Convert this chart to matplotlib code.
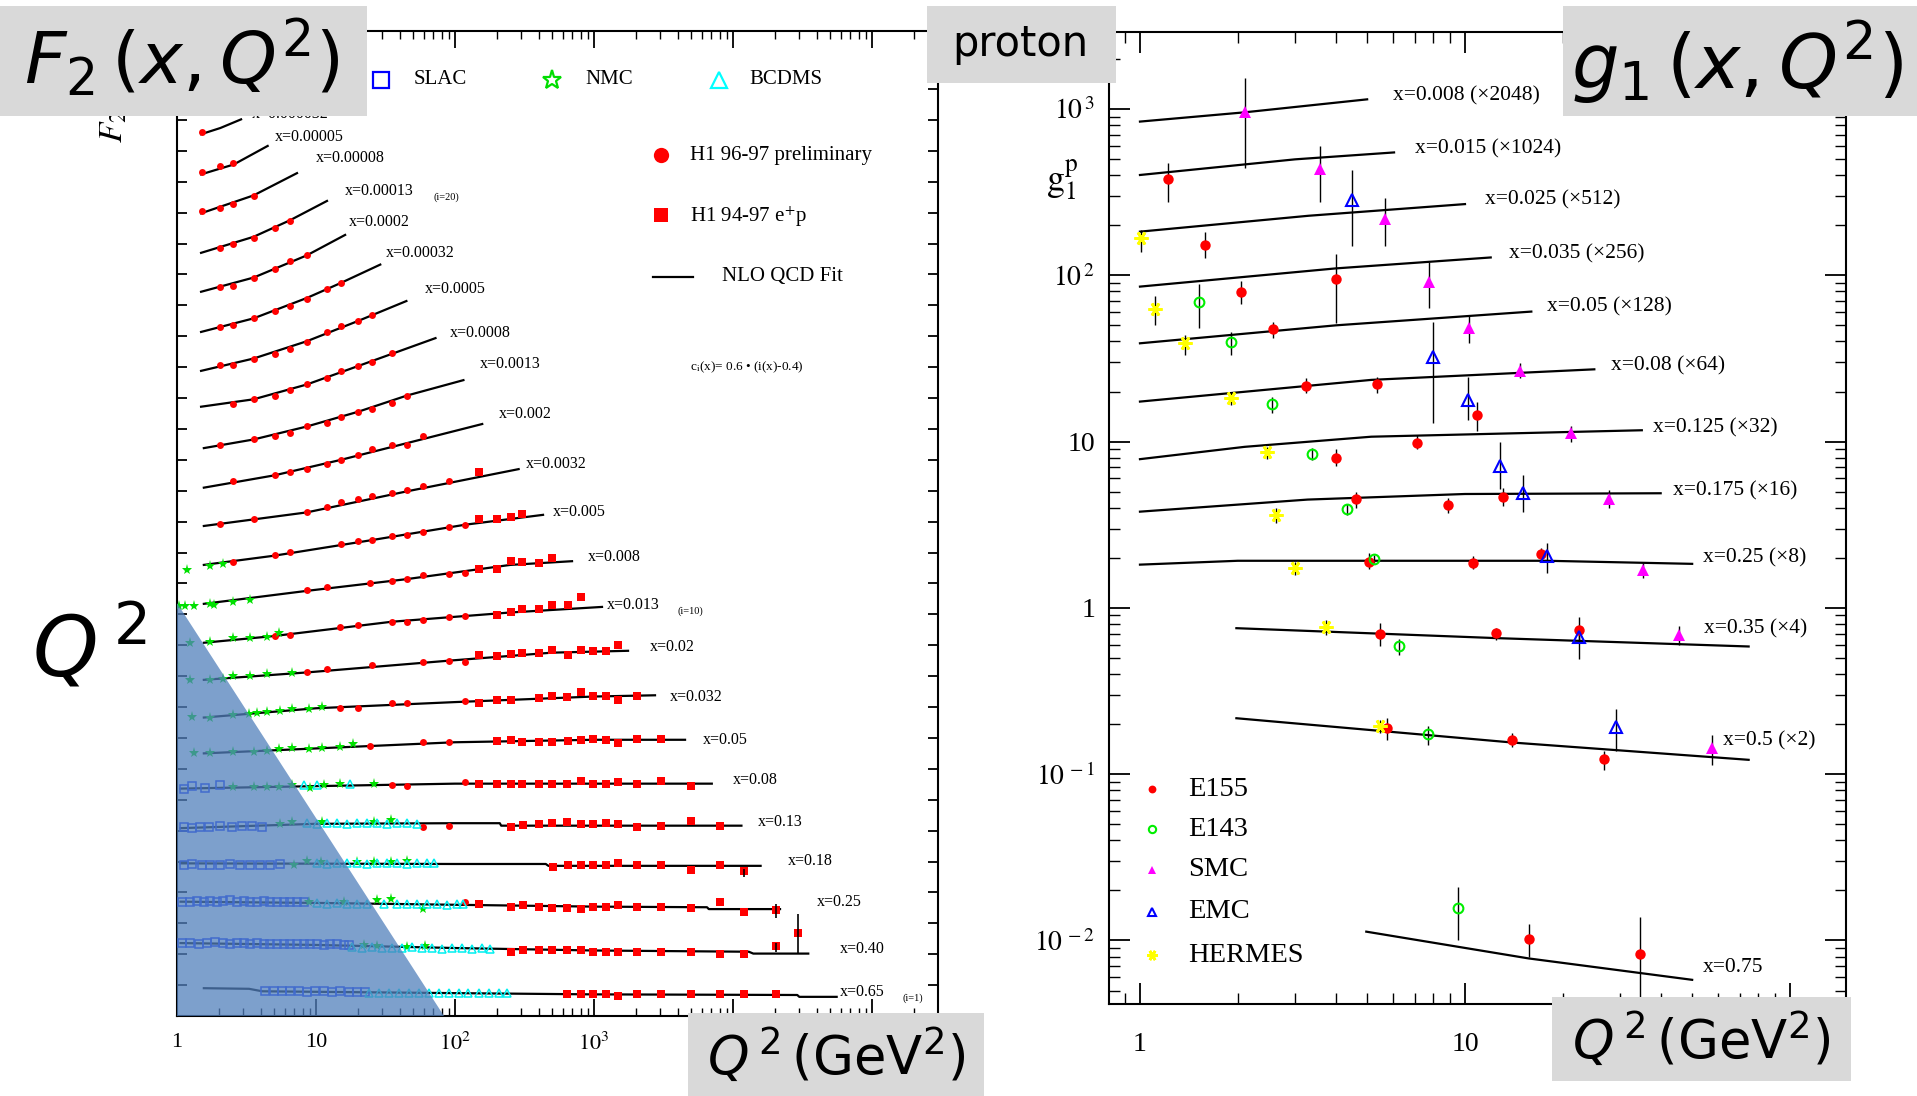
import numpy as np
import matplotlib
matplotlib.use("Agg")
import matplotlib.pyplot as plt
from matplotlib.patches import Rectangle, Polygon
from matplotlib.lines import Line2D
from matplotlib.ticker import FixedLocator, NullFormatter, FixedFormatter, LogLocator

plt.rcParams['font.family'] = ['Liberation Serif', 'DejaVu Serif']
plt.rcParams['mathtext.fontset'] = 'stix'

# ---------------- F2 data (values are F2 + c_i(x), c_i = 0.6*(i-0.4)) ----------------
f2_bins = ["x=0.000032", "x=0.00005", "x=0.00008", "x=0.00013", "x=0.0002", "x=0.00032",
           "x=0.0005", "x=0.0008", "x=0.0013", "x=0.002", "x=0.0032", "x=0.005", "x=0.008",
           "x=0.013", "x=0.02", "x=0.032", "x=0.05", "x=0.08", "x=0.13", "x=0.18",
           "x=0.25", "x=0.40", "x=0.65"]

fit_q = [[1.49, 2.05, 2.89], [1.49, 2.56, 4.49], [1.49, 3.56, 7.3], [1.49, 3.56, 6.54, 12.0],
         [1.49, 3.56, 8.6, 16.2], [1.49, 3.56, 8.6, 15.0, 29.0], [1.49, 3.56, 8.6, 20.2, 44.7],
         [1.49, 3.56, 8.6, 20.2, 72.4], [1.56, 3.56, 8.6, 20.2, 45.0, 115],
         [1.56, 5.04, 15.1, 45.0, 157], [1.56, 8.6, 45.0, 287], [1.56, 5.04, 25.0, 118, 430],
         [1.56, 8.6, 45.0, 250, 695], [1.56, 5.04, 35.0, 250, 1142], [1.56, 8.6, 90.0, 500, 1758],
         [1.56, 10, 100, 1000, 2748], [1.56, 10, 100, 1000, 4520], [1.06, 10, 100, 1000, 7040],
         [1.06, 10, 100, 210, 215, 11500], [1.06, 100, 450, 470, 15800],
         [1.06, 10, 100, 1000, 6500, 6700, 21800], [1.06, 10, 100, 1000, 13000, 14000, 34800],
         [1.56, 3.3, 4.1, 100, 1000, 29000, 30000, 55700]]
fit_v = [[14.27, 14.37, 14.51], [13.62, 13.78, 14.08], [12.99, 13.28, 13.64],
         [12.35, 12.61, 12.88, 13.19], [11.72, 11.95, 12.31, 12.64],
         [11.07, 11.29, 11.62, 11.86, 12.16], [10.44, 10.64, 10.92, 11.25, 11.57],
         [9.86, 9.98, 10.22, 10.52, 10.97], [9.19, 9.33, 9.54, 9.78, 10.04, 10.29],
         [8.55, 8.75, 9.00, 9.27, 9.58], [7.93, 8.15, 8.49, 8.85], [7.30, 7.45, 7.70, 7.95, 8.11],
         [6.67, 6.88, 7.07, 7.30, 7.36], [6.04, 6.15, 6.38, 6.53, 6.62], [5.44, 5.56, 5.75, 5.88, 5.91],
         [4.83, 4.98, 5.08, 5.17, 5.19], [4.25, 4.33, 4.43, 4.47, 4.47], [3.68, 3.72, 3.76, 3.76, 3.76],
         [3.04, 3.11, 3.12, 3.12, 3.08, 3.08], [2.47, 2.46, 2.46, 2.43, 2.43],
         [1.85, 1.83, 1.80, 1.77, 1.76, 1.73, 1.73], [1.18, 1.15, 1.10, 1.06, 1.04, 1.01, 1.01],
         [0.45, 0.44, 0.40, 0.37, 0.35, 0.34, 0.31, 0.31]]

h1_q = [[1.51], [1.51, 2.03, 2.53], [1.51, 2.03, 2.53, 3.56], [2.03, 2.53, 3.56, 5.04, 6.54],
        [2.03, 2.53, 3.56, 5.04, 6.54, 8.6], [2.03, 2.53, 3.56, 5.04, 6.54, 8.6, 12.0, 15.1],
        [2.03, 2.53, 3.56, 5.04, 6.54, 8.6, 12.0, 15.1, 20.2, 25.3],
        [2.53, 3.56, 5.04, 6.54, 8.6, 12.0, 15.1, 20.2, 25.3, 35.2],
        [2.03, 3.56, 5.04, 6.54, 8.6, 12.0, 15.1, 20.2, 25.3, 35.2, 45.1],
        [2.53, 5.04, 6.54, 8.6, 12.0, 15.1, 20.2, 25.3, 35.2, 45.1, 59.3],
        [2.03, 3.56, 8.6, 12.0, 15.1, 20.2, 25.3, 35.2, 45.1, 59.3, 90.0, 148],
        [2.53, 5.04, 6.54, 15.1, 20.2, 25.3, 35.2, 45.1, 59.3, 90.0, 118, 148, 201, 251, 303],
        [8.6, 12.0, 24.6, 35.2, 45.1, 59.3, 90.0, 118, 148, 201, 251, 303, 400, 497],
        [5.04, 6.54, 15.0, 20.2, 35.2, 45.1, 59.3, 90.0, 118, 201, 251, 303, 400, 497, 653, 802],
        [8.6, 12.0, 25.3, 59.3, 90.0, 118, 148, 201, 251, 303, 400, 497, 653, 802, 988, 1220, 1496],
        [15.0, 20.2, 35.2, 45.1, 118, 148, 201, 251, 400, 497, 637, 802, 988, 1220, 1496, 2027],
        [24.6, 59.3, 90.0, 201, 251, 303, 400, 497, 653, 802, 989, 1220, 1496, 2030, 3020],
        [35.2, 45.1, 118, 148, 201, 251, 303, 400, 497, 637, 802, 989, 1220, 1496, 2030, 3020, 5020],
        [59.3, 90.0, 251, 311, 400, 497, 637, 802, 989, 1220, 1496, 2030, 3020, 5020, 8130],
        [510, 653, 802, 989, 1220, 1496, 2030, 3020, 5020, 8130, 12000],
        [118, 148, 251, 311, 400, 497, 637, 802, 989, 1220, 1496, 2030, 3020, 5020, 8130, 12000, 20500],
        [251, 311, 400, 497, 637, 802, 989, 1220, 1496, 2030, 3020, 5020, 8130, 12000, 20500, 29500],
        [637, 802, 989, 1220, 1496, 2030, 3020, 5020, 8130, 12000, 20500]]
h1_v = [[14.31], [13.66, 13.75, 13.81], [13.03, 13.07, 13.14, 13.27], [12.43, 12.49, 12.59, 12.76, 12.86],
        [11.79, 11.81, 11.95, 12.09, 12.22, 12.31],
        [11.15, 11.18, 11.29, 11.41, 11.49, 11.61, 11.77, 11.86],
        [10.54, 10.53, 10.64, 10.72, 10.80, 10.91, 11.07, 11.17, 11.25, 11.34],
        [9.91, 9.98, 10.03, 10.13, 10.22, 10.32, 10.44, 10.52, 10.59, 10.73],
        [9.24, 9.33, 9.39, 9.43, 9.54, 9.60, 9.70, 9.78, 9.83, 9.92, 10.04],
        [8.65, 8.75, 8.81, 8.86, 8.94, 9.00, 9.08, 9.17, 9.24, 9.24, 9.39],
        [7.96, 8.05, 8.16, 8.24, 8.31, 8.36, 8.41, 8.46, 8.51, 8.58, 8.65, 8.81],
        [7.34, 7.46, 7.51, 7.64, 7.68, 7.70, 7.76, 7.78, 7.84, 7.92, 7.95, 8.04, 8.05, 8.08, 8.12],
        [6.89, 6.94, 7.00, 7.04, 7.07, 7.14, 7.16, 7.17, 7.24, 7.24, 7.37, 7.34, 7.33, 7.41],
        [6.15, 6.17, 6.30, 6.33, 6.38, 6.38, 6.41, 6.46, 6.47, 6.49, 6.54, 6.58, 6.58, 6.65, 6.65, 6.78],
        [5.56, 5.61, 5.68, 5.73, 5.75, 5.73, 5.84, 5.83, 5.86, 5.87, 5.87, 5.92, 5.84, 5.93, 5.91, 5.91, 6.00],
        [4.98, 4.99, 5.06, 5.06, 5.09, 5.07, 5.11, 5.12, 5.14, 5.18, 5.17, 5.25, 5.18, 5.18, 5.11, 5.18],
        [4.37, 4.43, 4.43, 4.45, 4.47, 4.43, 4.43, 4.44, 4.45, 4.47, 4.49, 4.47, 4.41, 4.49, 4.48],
        [3.74, 3.73, 3.78, 3.75, 3.76, 3.76, 3.76, 3.76, 3.76, 3.76, 3.80, 3.76, 3.76, 3.79, 3.75, 3.80, 3.73],
        [3.06, 3.08, 3.06, 3.09, 3.10, 3.12, 3.14, 3.10, 3.10, 3.12, 3.10, 3.06, 3.08, 3.16, 3.08],
        [2.41, 2.44, 2.44, 2.45, 2.45, 2.47, 2.44, 2.45, 2.36, 2.45, 2.35],
        [1.84, 1.82, 1.77, 1.79, 1.77, 1.74, 1.75, 1.73, 1.77, 1.77, 1.80, 1.77, 1.77, 1.74, 1.84, 1.69, 1.72],
        [1.04, 1.07, 1.07, 1.06, 1.06, 1.07, 1.04, 1.04, 1.03, 1.03, 1.04, 1.04, 1.01, 1.01, 1.14, 1.34],
        [0.35, 0.35, 0.35, 0.35, 0.33, 0.35, 0.35, 0.35, 0.35, 0.35, 0.35]]
H1_SPLIT_Q2 = 140  # 94-97 e+p sample above, 96-97 preliminary below

# larger H1 error bars at the highest Q^2
h1_err_q = [12000, 20500, 20500, 29500]
h1_err_lo = [2.25, 1.58, 1.04, 1.01]
h1_err_hi = [2.38, 1.82, 1.18, 1.65]

nmc_q = {"x=0.005": [1.18, 1.72, 2.16],
         "x=0.008": [1.03, 1.15, 1.32, 1.72, 1.84, 2.53, 3.37],
         "x=0.013": [1.25, 1.72, 2.53, 3.37, 4.44, 5.39],
         "x=0.02": [1.25, 1.72, 2.16, 2.53, 3.37, 4.44, 6.7],
         "x=0.032": [1.28, 1.72, 2.53, 3.28, 3.76, 4.44, 5.54, 6.7, 8.85, 11.0],
         "x=0.05": [1.32, 1.72, 2.53, 3.56, 4.44, 5.39, 6.7, 8.85, 11.0, 15.0, 18.6],
         "x=0.08": [2.53, 3.56, 4.44, 5.39, 6.7, 9.1, 11.4, 15.0, 26.0],
         "x=0.13": [5.54, 6.7, 11.0, 26.0, 34.5],
         "x=0.18": [6.9, 8.6, 10.8, 19.7, 26.0, 34.5, 45.1],
         "x=0.25": [8.85, 15.8, 27.6, 34.5, 59.3],
         "x=0.40": [22.0, 27.6, 45.1, 61.0]}
nmc_v = {"x=0.005": [7.22, 7.28, 7.31],
         "x=0.008": [6.63, 6.63, 6.63, 6.67, 6.65, 6.70, 6.74],
         "x=0.013": [6.04, 6.06, 6.11, 6.11, 6.13, 6.19],
         "x=0.02": [5.44, 5.44, 5.46, 5.50, 5.50, 5.53, 5.55],
         "x=0.032": [4.84, 4.83, 4.87, 4.88, 4.91, 4.92, 4.94, 4.97, 4.97, 5.00],
         "x=0.05": [4.25, 4.25, 4.28, 4.28, 4.29, 4.32, 4.33, 4.32, 4.34, 4.36, 4.40],
         "x=0.08": [3.71, 3.71, 3.71, 3.71, 3.74, 3.69, 3.74, 3.75, 3.76],
         "x=0.13": [3.10, 3.14, 3.14, 3.14, 3.17],
         "x=0.18": [2.45, 2.51, 2.49, 2.50, 2.50, 2.50, 2.51],
         "x=0.25": [1.85, 1.84, 1.88, 1.90, 1.73],
         "x=0.40": [1.15, 1.14, 1.12, 1.14]}

bcdms_q = {"x=0.08": [8.15, 10.1, 17.7],
           "x=0.13": [8.6, 10.1, 12.0, 14.2, 16.7, 19.7, 23.3, 27.6, 32.4, 38.2, 45.1, 53.2],
           "x=0.18": [10.1, 12.0, 14.2, 16.7, 19.7, 23.3, 27.6, 32.4, 38.2, 45.1, 53.2, 63.0, 70.2],
           "x=0.25": [10.1, 12.0, 14.2, 16.7, 19.7, 23.3, 30.7, 38.2, 45.1, 53.2, 63.0, 74.5, 87.8, 104, 115],
           "x=0.40": [18.1, 21.3, 25.3, 29.8, 35.2, 41.7, 49.1, 58.0, 68.5, 80.9, 95.5, 113, 133, 157, 180],
           "x=0.65": [23.9, 28.3, 33.3, 39.4, 46.4, 54.8, 64.6, 76.2, 90, 106, 125, 148, 175, 206, 238]}
bcdms_v = {"x=0.08": [3.74, 3.74, 3.76],
           "x=0.13": [3.12, 3.11, 3.13, 3.12, 3.11, 3.12, 3.13, 3.12, 3.11, 3.12, 3.12, 3.11],
           "x=0.18": [2.47, 2.46, 2.48, 2.47, 2.47, 2.46, 2.47, 2.48, 2.47, 2.46, 2.47, 2.47, 2.47],
           "x=0.25": [1.83, 1.82, 1.83, 1.82, 1.82, 1.81, 1.82, 1.82, 1.81, 1.82, 1.81, 1.81, 1.80, 1.81, 1.81],
           "x=0.40": [1.11, 1.10, 1.11, 1.10, 1.10, 1.10, 1.11, 1.10, 1.10, 1.09, 1.10, 1.10, 1.09, 1.10, 1.09],
           "x=0.65": [0.38, 0.38, 0.38, 0.37, 0.38, 0.38, 0.37, 0.38, 0.37, 0.38, 0.37, 0.37, 0.37, 0.38, 0.37]}

slac_q = {"x=0.08": [1.12, 1.28, 1.60, 2.05],
          "x=0.13": [1.12, 1.28, 1.47, 1.69, 2.05, 2.49, 2.93, 3.46, 4.09],
          "x=0.18": [1.12, 1.28, 1.51, 1.74, 2.05, 2.42, 2.86, 3.37, 3.97, 4.69, 5.54],
          "x=0.25": [1.09, 1.25, 1.39, 1.56, 1.74, 1.94, 2.16, 2.42, 2.70, 3.02, 3.37, 3.76, 4.20,
                     4.69, 5.24, 5.85, 6.54, 7.30, 8.15],
          "x=0.40": [1.09, 1.25, 1.43, 1.64, 1.89, 2.16, 2.42, 2.70, 3.02, 3.37, 3.76, 4.20, 4.69,
                     5.24, 5.85, 6.54, 7.30, 8.15, 9.10, 10.1, 11.4, 12.7, 14.2, 15.8, 17.2],
          "x=0.65": [4.32, 4.96, 5.70, 6.54, 7.51, 8.60, 9.90, 11.4, 13.0, 15.0, 17.2, 19.7, 22.7]}
slac_v = {"x=0.08": [3.68, 3.72, 3.69, 3.74],
          "x=0.13": [3.06, 3.05, 3.06, 3.06, 3.07, 3.06, 3.08, 3.07, 3.06],
          "x=0.18": [2.45, 2.46, 2.45, 2.44, 2.45, 2.46, 2.45, 2.44, 2.45, 2.45, 2.46],
          "x=0.25": [1.85, 1.85, 1.86, 1.85, 1.86, 1.85, 1.86, 1.87, 1.85, 1.86, 1.85, 1.85, 1.86,
                     1.85, 1.84, 1.85, 1.85, 1.84, 1.85],
          "x=0.40": [1.18, 1.18, 1.17, 1.18, 1.19, 1.18, 1.17, 1.18, 1.18, 1.17, 1.18, 1.17, 1.17,
                     1.16, 1.17, 1.16, 1.16, 1.17, 1.16, 1.16, 1.15, 1.16, 1.16, 1.15, 1.15],
          "x=0.65": [0.40, 0.40, 0.41, 0.40, 0.40, 0.39, 0.40, 0.40, 0.39, 0.40, 0.39, 0.39, 0.39]}

# ---------------- g1 proton data (scaled by 2^i) ----------------
g1_bins = ["x=0.008 (\u00d72048)", "x=0.015 (\u00d71024)", "x=0.025 (\u00d7512)", "x=0.035 (\u00d7256)",
           "x=0.05 (\u00d7128)", "x=0.08 (\u00d764)", "x=0.125 (\u00d732)", "x=0.175 (\u00d716)",
           "x=0.25 (\u00d78)", "x=0.35 (\u00d74)", "x=0.5 (\u00d72)", "x=0.75"]
g1_fit_q = [[1.0, 2.1, 5.0], [1.0, 3.0, 6.05], [1.0, 3.3, 10.0], [1.0, 4.0, 12.0], [1.0, 4.0, 16.0],
            [1.0, 5.15, 25.0], [1.0, 2.1, 5.15, 35.0], [1.0, 3.28, 10.0, 40.0], [1.0, 2.0, 17.9, 50.0],
            [1.98, 12.5, 74.6], [1.98, 14.0, 74.6], [4.97, 15.7, 50.0]]
g1_fit_v = [[840, 955, 1143], [401, 498, 548], [183, 228, 268], [85.5, 110, 128], [39.0, 50.0, 60.5],
            [17.4, 23.5, 27.2], [7.84, 9.3, 10.7, 11.7], [3.79, 4.48, 4.84, 4.89], [1.82, 1.92, 1.92, 1.84],
            [0.755, 0.658, 0.586], [0.217, 0.155, 0.122], [0.0113, 0.0078, 0.0058]]

e155_q = [1.22, 1.59, 2.05, 4.01, 2.57, 3.24, 5.35, 10.9, 4.02, 7.11, 4.63, 8.85, 13.1, 5.06, 10.6,
          17.1, 5.49, 12.5, 22.5, 5.77, 14.0, 26.7, 15.7, 34.5]
e155_g = [378, 152, 79.8, 94.6, 47.3, 21.7, 22.2, 14.5, 7.94, 9.86, 4.50, 4.14, 4.63, 1.90, 1.87,
          2.11, 0.698, 0.705, 0.738, 0.189, 0.161, 0.123, 0.0102, 0.0083]
e155_hi = [475, 183, 92.5, 135, 52.6, 24.0, 24.6, 17.4, 9.0, 11.0, 5.0, 4.56, 5.24, 2.13, 2.06,
           2.29, 0.81, 0.755, 0.879, 0.217, 0.177, 0.137, 0.0126, 0.0138]
e155_lo = [277, 127, 67.3, 51.4, 41.8, 19.7, 19.7, 11.5, 7.1, 9.0, 3.97, 3.71, 4.1, 1.71, 1.71,
           1.95, 0.591, 0.637, 0.614, 0.161, 0.146, 0.106, 0.008, 0.003]

e143_q = [1.52, 1.91, 2.55, 3.39, 4.33, 5.25, 6.25, 7.7, 9.5]
e143_g = [69.5, 39.9, 16.8, 8.43, 3.92, 1.98, 0.586, 0.174, 0.0156]
e143_hi = [88.7, 45.8, 18.6, 9.1, 4.24, 2.08, 0.649, 0.195, 0.0209]
e143_lo = [48.0, 33.2, 14.8, 7.7, 3.62, 1.86, 0.522, 0.15, 0.010]

smc_q = [2.10, 3.59, 5.69, 7.77, 10.3, 14.8, 21.2, 27.7, 35.3, 45.5, 57.6]
smc_g = [955, 434, 217, 91.6, 48.4, 26.4, 11.2, 4.52, 1.69, 0.689, 0.144]
smc_hi = [1528, 600, 291, 121, 57.8, 29.6, 12.4, 5.12, 1.86, 0.78, 0.173]
smc_lo = [440, 277, 149, 63.4, 39.0, 24.0, 9.96, 3.97, 1.51, 0.60, 0.114]

emc_q = [4.49, 7.95, 10.2, 12.8, 15.1, 17.9, 22.5, 29.2]
emc_g = [284, 32.4, 17.8, 7.18, 4.89, 2.04, 0.667, 0.192]
emc_hi = [430, 52.6, 24.6, 9.9, 6.3, 2.47, 0.738, 0.246]
emc_lo = [149, 12.9, 13.5, 5.19, 3.78, 1.62, 0.491, 0.137]

hermes_q = [1.01, 1.11, 1.38, 1.90, 2.46, 2.63, 3.0, 3.74, 5.46]
hermes_g = [167, 62.5, 39.0, 18.2, 8.6, 3.62, 1.73, 0.765, 0.194]
hermes_hi = [187, 75.0, 43.8, 19.9, 9.3, 3.97, 1.90, 0.847, 0.212]
hermes_lo = [139, 50.0, 33.2, 16.6, 7.84, 3.26, 1.58, 0.689, 0.177]

W, H = 1917, 1096
fig = plt.figure(figsize=(W / 100, H / 100), dpi=100)


def fx(px):
    return px / W


def fy(py):
    return 1 - py / H


# ================= left panel: F2 =================
axL = fig.add_axes([fx(177), fy(1016), 761 / W, 985 / H])
axL.set_xscale('log')
axL.set_xlim(1, 10 ** 5.475)
axL.set_ylim(0, 15.94)

label_off_L = [(11, 5), (7, 9), (19, 15), (18, 10), (4, 13), (6, 12), (18, 12), (14, 5), (16, 16),
               (17, 10), (7, 5), (10, 3), (16, 4), (5, 2), (22, 4), (15, -2), (18, 0), (21, 4),
               (16, 4), (27, 5), (37, 7), (32, 5), (3, 5)]

for k, name in enumerate(f2_bins):
    axL.plot(fit_q[k], fit_v[k], color='k', lw=1.6, zorder=2)
    q = np.array(h1_q[k])
    v = np.array(h1_v[k])
    low = q < H1_SPLIT_Q2
    axL.plot(q[low], v[low], 'o', color='#ff0000', ms=5, mew=0, zorder=3)
    axL.plot(q[~low], v[~low], 's', color='#ff0000', ms=5.5, mew=0, zorder=3)
    if name in slac_q:
        axL.plot(slac_q[name], slac_v[name], 's', mfc='none', mec='#1030ff', ms=5.5, mew=1.1, zorder=3)
    if name in nmc_q:
        axL.plot(nmc_q[name], nmc_v[name], '*', color='#00e000', ms=8, mew=0, zorder=3)
    if name in bcdms_q:
        axL.plot(bcdms_q[name], bcdms_v[name], '^', mfc='none', mec='#00f0f0', ms=5.5, mew=1.1, zorder=3)
    axL.annotate(name, xy=(fit_q[k][-1], fit_v[k][-1]), xytext=label_off_L[k],
                 textcoords='offset pixels', ha='left', va='center', fontsize=11.5, zorder=3)

axL.vlines(h1_err_q, h1_err_lo, h1_err_hi, color='k', lw=1.2, zorder=3)

# kinematic region of fixed-target data
axL.add_patch(Polygon([(1, 6.68), (1, 0), (84, 0)], closed=True, facecolor='#5280bc',
                      edgecolor='none', alpha=0.75, zorder=4))

# decades 10^4 and 10^5 sit under the axis-title box, so they carry no label
axL.xaxis.set_major_locator(FixedLocator([1, 10, 100, 1e3, 1e4, 1e5]))
axL.xaxis.set_major_formatter(FixedFormatter(['1', '10', r'$10^{2}$', r'$10^{3}$', '', '']))
axL.xaxis.set_minor_locator(LogLocator(base=10, subs=np.arange(2, 10), numticks=20))
axL.xaxis.set_minor_formatter(NullFormatter())
axL.yaxis.set_major_locator(FixedLocator(np.arange(0, 16, 0.5)))
axL.yaxis.set_major_formatter(NullFormatter())
axL.tick_params(axis='x', which='major', direction='in', top=True, length=12, width=1.3,
                labelsize=16, pad=12)
axL.tick_params(axis='x', which='minor', direction='in', top=True, length=6, width=1.0)
axL.tick_params(axis='y', which='major', direction='in', right=True, length=7, width=1.3)
for s in axL.spines.values():
    s.set_linewidth(1.5)

# legend of the left panel
fig.add_artist(Line2D([fx(381)], [fy(80)], marker='s', ms=11, mfc='none', mec='#0000ff', mew=1.6, ls='none'))
fig.text(fx(414), fy(80), 'SLAC', ha='left', va='center', fontsize=15)
fig.add_artist(Line2D([fx(552)], [fy(80)], marker='*', ms=14, mfc='none', mec='#00dd00', mew=1.6, ls='none'))
fig.text(fx(585), fy(80), 'NMC', ha='left', va='center', fontsize=15)
fig.add_artist(Line2D([fx(719)], [fy(80)], marker='^', ms=11, mfc='none', mec='#00ffff', mew=1.6, ls='none'))
fig.text(fx(749), fy(80), 'BCDMS', ha='left', va='center', fontsize=15)
fig.add_artist(Line2D([fx(661)], [fy(155)], marker='o', ms=11, color='#ff0000', mew=0, ls='none'))
fig.text(fx(690), fy(155), 'H1 96-97 preliminary', ha='left', va='center', fontsize=15)
fig.add_artist(Line2D([fx(661)], [fy(215)], marker='s', ms=10.5, color='#ff0000', mew=0, ls='none'))
fig.text(fx(690), fy(217), 'H1 94-97 e$^{+}$p', ha='left', va='center', fontsize=15)
fig.add_artist(Line2D([fx(653), fx(693)], [fy(277), fy(277)], color='k', lw=1.6))
fig.text(fx(722), fy(277), 'NLO QCD Fit', ha='left', va='center', fontsize=15)
fig.text(fx(690), fy(367), 'c$_{\\rm i}$(x)= 0.6 \u2022 (i(x)-0.4)', ha='left', va='center', fontsize=9.5)
fig.text(fx(433), fy(197), '(i=20)', ha='left', va='center', fontsize=7.5)
fig.text(fx(677), fy(611), '(i=10)', ha='left', va='center', fontsize=7.5)
fig.text(fx(902), fy(998), '(i=1)', ha='left', va='center', fontsize=7.5)
fig.text(fx(114), fy(126), r'$F_2$', rotation=90, ha='center', va='center', fontsize=24, zorder=5)

# ================= right panel: g1 =================
axR = fig.add_axes([fx(1109), fy(1004), 737 / W, 972 / H])
axR.set_xscale('log')
axR.set_yscale('log')
axR.set_xlim(0.803, 148.7)
axR.set_ylim(0.00415, 2904)

label_off_R = [(26, 3), (21, 4), (20, 4), (18, 4), (16, 5), (17, 3), (11, 2), (12, 2), (11, 6),
               (-45, 18), (-26, 19), (11, 12)]
for k, name in enumerate(g1_bins):
    axR.plot(g1_fit_q[k], g1_fit_v[k], color='k', lw=1.6, zorder=2)
    axR.annotate(name, xy=(g1_fit_q[k][-1], g1_fit_v[k][-1]), xytext=label_off_R[k],
                 textcoords='offset pixels', ha='left', va='center', fontsize=15.5)

experiments = [
    ('E155', e155_q, e155_g, e155_lo, e155_hi, dict(marker='o', color='#ff0000', ms=7.5, mew=0)),
    ('E143', e143_q, e143_g, e143_lo, e143_hi, dict(marker='o', mfc='none', mec='#00ee00', ms=7, mew=1.5)),
    ('SMC', smc_q, smc_g, smc_lo, smc_hi, dict(marker='^', color='#ff00ff', ms=8, mew=0)),
    ('EMC', emc_q, emc_g, emc_lo, emc_hi, dict(marker='^', mfc='none', mec='#0000ff', ms=8, mew=1.5)),
    ('HERMES', hermes_q, hermes_g, hermes_lo, hermes_hi, dict(marker=(6, 2, 90), color='#ffff00', ms=10, mew=2)),
]
for name, q, g, lo, hi, style in experiments:
    axR.vlines(q, lo, hi, color='k', lw=1.0, zorder=3)
    axR.plot(q, g, ls='none', zorder=4, **style)

legend_y = [789, 829, 870, 912, 955]
for (name, q, g, lo, hi, style), yy in zip(experiments, legend_y):
    st = dict(style)
    st['ms'] = st['ms'] * 0.75
    fig.add_artist(Line2D([fx(1152)], [fy(yy)], ls='none', **st))
    fig.text(fx(1188), fy(yy), name, ha='left', va='center', fontsize=20.5)

# the 10^2 tick on Q^2 sits under the axis-title box
axR.xaxis.set_major_locator(FixedLocator([1, 10, 100]))
axR.xaxis.set_major_formatter(FixedFormatter(['1', '10', '']))
axR.xaxis.set_minor_locator(LogLocator(base=10, subs=np.arange(2, 10), numticks=20))
axR.xaxis.set_minor_formatter(NullFormatter())
axR.yaxis.set_major_locator(FixedLocator([1e-2, 1e-1, 1, 10, 100, 1000]))
axR.yaxis.set_major_formatter(FixedFormatter([r'$10^{\,-2}$', r'$10^{\,-1}$', '1', '10',
                                              r'$10^{\,2}$', r'$10^{\,3}$']))
axR.yaxis.set_minor_locator(LogLocator(base=10, subs=np.arange(2, 10), numticks=20))
axR.yaxis.set_minor_formatter(NullFormatter())
axR.tick_params(which='major', direction='in', top=True, right=True, length=15, width=1.3, labelsize=20)
axR.tick_params(which='minor', direction='in', top=True, right=True, length=8, width=1.0)
axR.tick_params(axis='x', which='major', pad=20)
axR.tick_params(axis='y', which='major', pad=10)
for s in axR.spines.values():
    s.set_linewidth(1.5)
fig.text(fx(1062), fy(180), r'$\mathrm{g}_{1}^{\mathrm{p}}$', ha='center', va='center', fontsize=26)

# ================= grey title boxes =================
boxes = [(0, 6, 367, 116), (927, 6, 1116, 83), (1563, 6, 1917, 116),
         (688, 1013, 984, 1096), (1552, 997, 1851, 1081)]
for x0, y0, x1, y1 in boxes:
    fig.add_artist(Rectangle((fx(x0), fy(y1)), (x1 - x0) / W, (y1 - y0) / H,
                             transform=fig.transFigure, facecolor='#d9d9d9', edgecolor='none', zorder=10))

big = dict(ha='center', va='center', zorder=11, math_fontfamily='dejavusans', color='k')
fig.text(fx(182), fy(58), r'$F_2\,(x,Q^2)$', fontsize=52, **big)
fig.text(fx(1737), fy(62), r'$g_1\,(x,Q^2)$', fontsize=54, **big)
fig.text(fx(836), fy(1056), r'$Q^{\,2}\,(\mathrm{GeV}^2)$', fontsize=38, **big)
fig.text(fx(1701), fy(1040), r'$Q^{\,2}\,(\mathrm{GeV}^2)$', fontsize=38, **big)
fig.text(fx(89), fy(650), r'$Q^{\,2}$', fontsize=60, **big)
fig.text(fx(1020), fy(44), 'proton', ha='center', va='center', fontsize=30, family='DejaVu Sans', zorder=11)

fig.savefig('out.png', dpi=100)
